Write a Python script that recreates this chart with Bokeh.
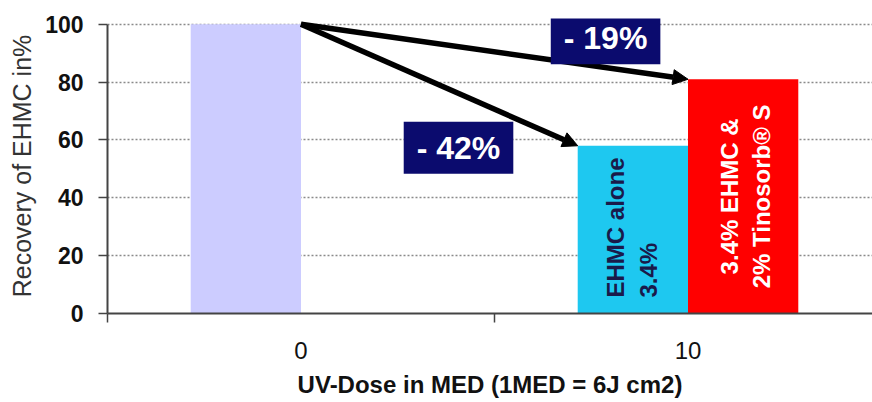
import math
from bokeh.plotting import figure
from bokeh.models import Range1d, FixedTicker, Arrow, NormalHead, Label
from bokeh.embed import file_html
from bokeh.resources import INLINE

# ---- data ----
doses = ["0", "10"]                 # UV dose in MED (category labels)
ehmc_alone = [100, 58]              # left bar of each group (dose 0 = unirradiated reference)
ehmc_tinosorb = [None, 81]          # right bar of each group (EHMC + Tinosorb S)
y_ticks = [0, 20, 40, 60, 80, 100]
x_title = "UV-Dose in MED (1MED = 6J cm2)"
y_title = "Recovery of EHMC in%"
alone_text = ["EHMC alone", "3.4%"]
combo_text = ["3.4% EHMC &", "2% Tinosorb\u00ae S"]

FONT = "Liberation Sans"
BAR_W = 0.285
centers = [i + 0.5 for i in range(len(doses))]

p = figure(width=872, height=402, output_backend="svg", toolbar_location=None,
           x_range=Range1d(0, 765 / 387), y_range=Range1d(0, 102),
           min_border_left=107, min_border_right=0, min_border_top=18, min_border_bottom=89)
p.outline_line_color = None
p.background_fill_color = "white"
p.border_fill_color = "white"

# bars
left_x = [c - BAR_W / 2 for c in centers]
p.vbar(x=left_x, top=ehmc_alone, width=BAR_W, fill_color=["#CCCCFF", "#1EC8F0"], line_color=None)
rx = [c + BAR_W / 2 for c, v in zip(centers, ehmc_tinosorb) if v is not None]
rv = [v for v in ehmc_tinosorb if v is not None]
p.vbar(x=rx, top=rv, width=BAR_W, fill_color="#FF0000", line_color=None)

# axes
xa = p.xaxis[0]
xa.ticker = FixedTicker(ticks=centers, minor_ticks=[0, 1, 2])
xa.major_label_overrides = {c: d for c, d in zip(centers, doses)}
xa.major_tick_out = 0
xa.major_tick_in = 0
xa.minor_tick_out = 9
xa.minor_tick_in = 0
xa.minor_tick_line_color = "#444444"
xa.minor_tick_line_width = 1.5
xa.axis_line_color = "#444444"
xa.axis_line_width = 2
xa.major_label_text_font = FONT
xa.major_label_text_font_size = "24px"
xa.major_label_text_color = "#111111"
xa.major_label_standoff = 19
xa.axis_label = x_title
xa.axis_label_text_font = FONT
xa.axis_label_text_font_style = "bold"
xa.axis_label_text_font_size = "24px"
xa.axis_label_text_color = "#111111"
xa.axis_label_standoff = 9

ya = p.yaxis[0]
ya.ticker = FixedTicker(ticks=y_ticks)
ya.bounds = (0, 100)
ya.major_tick_out = 9
ya.major_tick_in = 0
ya.minor_tick_line_color = None
ya.major_tick_line_color = "#444444"
ya.major_tick_line_width = 1.5
ya.axis_line_color = "#444444"
ya.axis_line_width = 2
ya.major_label_text_font = FONT
ya.major_label_text_font_style = "bold"
ya.major_label_text_font_size = "23px"
ya.major_label_text_color = "#111111"
ya.major_label_standoff = 15
ya.axis_label = y_title
ya.axis_label_text_font = FONT
ya.axis_label_text_font_style = "normal"
ya.axis_label_text_font_size = "25px"
ya.axis_label_text_color = "#333333"
ya.axis_label_standoff = 6

p.xgrid.grid_line_color = None
p.ygrid.ticker = FixedTicker(ticks=y_ticks[1:])
p.ygrid.grid_line_color = "#8a8a8a"
p.ygrid.grid_line_dash = "2 2"
p.ygrid.grid_line_width = 1.5

# arrows from the unirradiated bar to each irradiated bar
x0, y0 = centers[0], ehmc_alone[0]
targets = [(centers[1] - BAR_W, ehmc_alone[1]), (centers[1], ehmc_tinosorb[1])]
for tx, ty in targets:
    p.add_layout(Arrow(x_start=x0, y_start=y0, x_end=tx, y_end=ty,
                       line_width=5.5, line_color="black",
                       end=NormalHead(size=15, fill_color="black", line_color="black", line_width=1)))

# percentage change boxes
drop_alone = ehmc_alone[1] - ehmc_alone[0]
drop_combo = ehmc_tinosorb[1] - ehmc_alone[0]
box_style = dict(text_font=FONT, text_font_style="bold", text_font_size="32px",
                 text_color="white", text_align="center", text_baseline="middle",
                 background_fill_color="#0B0B6E",
                 padding=dict(left=13, right=13, top=8, bottom=8))
p.add_layout(Label(x=1.287, y=95.2, text=f"- {abs(drop_combo)}%", **box_style))
p.add_layout(Label(x=0.907, y=57.3, text=f"- {abs(drop_alone)}%", **box_style))

# rotated texts inside the bars
cyan_c = centers[1] - BAR_W / 2
for txt, off in zip(alone_text, (-17, 16)):
    p.add_layout(Label(x=cyan_c, y=0, x_offset=off, y_offset=16, text=txt, angle=math.pi / 2,
                       text_align="left", text_baseline="middle", text_font=FONT,
                       text_font_style="bold", text_font_size="24px", text_color="#1A1A4A"))
red_c = centers[1] + BAR_W / 2
for txt, off in zip(combo_text, (-14, 18)):
    p.add_layout(Label(x=red_c, y=ehmc_tinosorb[1] / 2, x_offset=off, text=txt, angle=math.pi / 2,
                       text_align="center", text_baseline="middle", text_font=FONT,
                       text_font_style="bold", text_font_size="24px", text_color="white"))

open("out.html", "w").write(file_html(p, INLINE))
